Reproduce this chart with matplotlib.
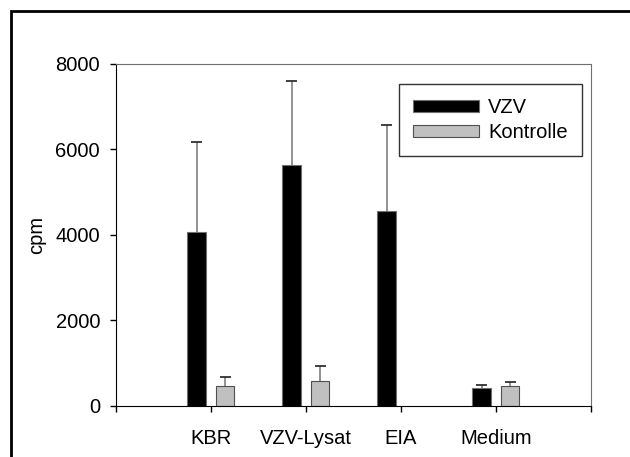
import numpy as np
import matplotlib.pyplot as plt
from matplotlib.patches import Rectangle

plt.rcParams['font.family'] = ['Liberation Sans', 'DejaVu Sans']

# Daten
kategorien = ['KBR', 'VZV-Lysat', 'EIA', 'Medium']
vzv = [4070, 5630, 4550, 410]
vzv_fehler = [2110, 1970, 2020, 80]
kontrolle = [470, 580, np.nan, 455]
kontrolle_fehler = [190, 360, np.nan, 110]
yticks = [0, 2000, 4000, 6000, 8000]

fig = plt.figure(figsize=(6.3, 4.57), dpi=100)
ax = fig.add_axes([0.1841, 0.1123, 0.7539, 0.7477])

x = np.arange(1, len(kategorien) + 1)
breite = 0.195
ab = 0.15
kappe = 0.058
fs = 14.5

ax.bar(x - ab, vzv, breite, color='black', edgecolor='#707070', linewidth=0.8, label='VZV', zorder=2)
ax.bar(x + ab, kontrolle, breite, color='#c0c0c0', edgecolor='#505050', linewidth=0.8, label='Kontrolle', zorder=2)

# Fehlerbalken nur nach oben
for pos, werte, fehler in [(x - ab, vzv, vzv_fehler), (x + ab, kontrolle, kontrolle_fehler)]:
    werte = np.asarray(werte, dtype=float)
    oben = werte + np.asarray(fehler, dtype=float)
    ax.vlines(pos, werte, oben, color='#808080', linewidth=1.2, zorder=1)
    ax.hlines(oben, pos - kappe, pos + kappe, color='#202020', linewidth=1.2, zorder=1)

ax.set_xlim(0, 5)
ax.set_ylim(0, 8000)
ax.set_yticks(yticks)
ax.set_yticklabels([str(t) for t in yticks], fontsize=fs)
ax.set_xticks(range(0, 6))
ax.set_xticklabels([''] + kategorien + [''], fontsize=fs)
ax.tick_params(axis='both', direction='out', length=4.5, width=1, color='black')
ax.tick_params(axis='x', pad=12)
ax.tick_params(axis='y', pad=7)
ax.set_ylabel('cpm', fontsize=fs, labelpad=7)

for s in ['left', 'bottom']:
    ax.spines[s].set_color('black')
for s in ['top', 'right']:
    ax.spines[s].set_color('#707070')

leg = ax.legend(loc='upper right', bbox_to_anchor=(0.981, 0.9415), borderaxespad=0,
                fontsize=fs, frameon=True, fancybox=False, edgecolor='black',
                handlelength=3.3, handleheight=0.5, borderpad=0.7, labelspacing=0.3,
                handletextpad=0.45)
leg.get_frame().set_linewidth(1)

# Rahmen um die Grafik
fig.add_artist(Rectangle((11 / 630, -0.5), 1.5, 1.5 - 11 / 457, transform=fig.transFigure,
                         fill=False, edgecolor='black', linewidth=2))

fig.savefig('out.png', dpi=100)
